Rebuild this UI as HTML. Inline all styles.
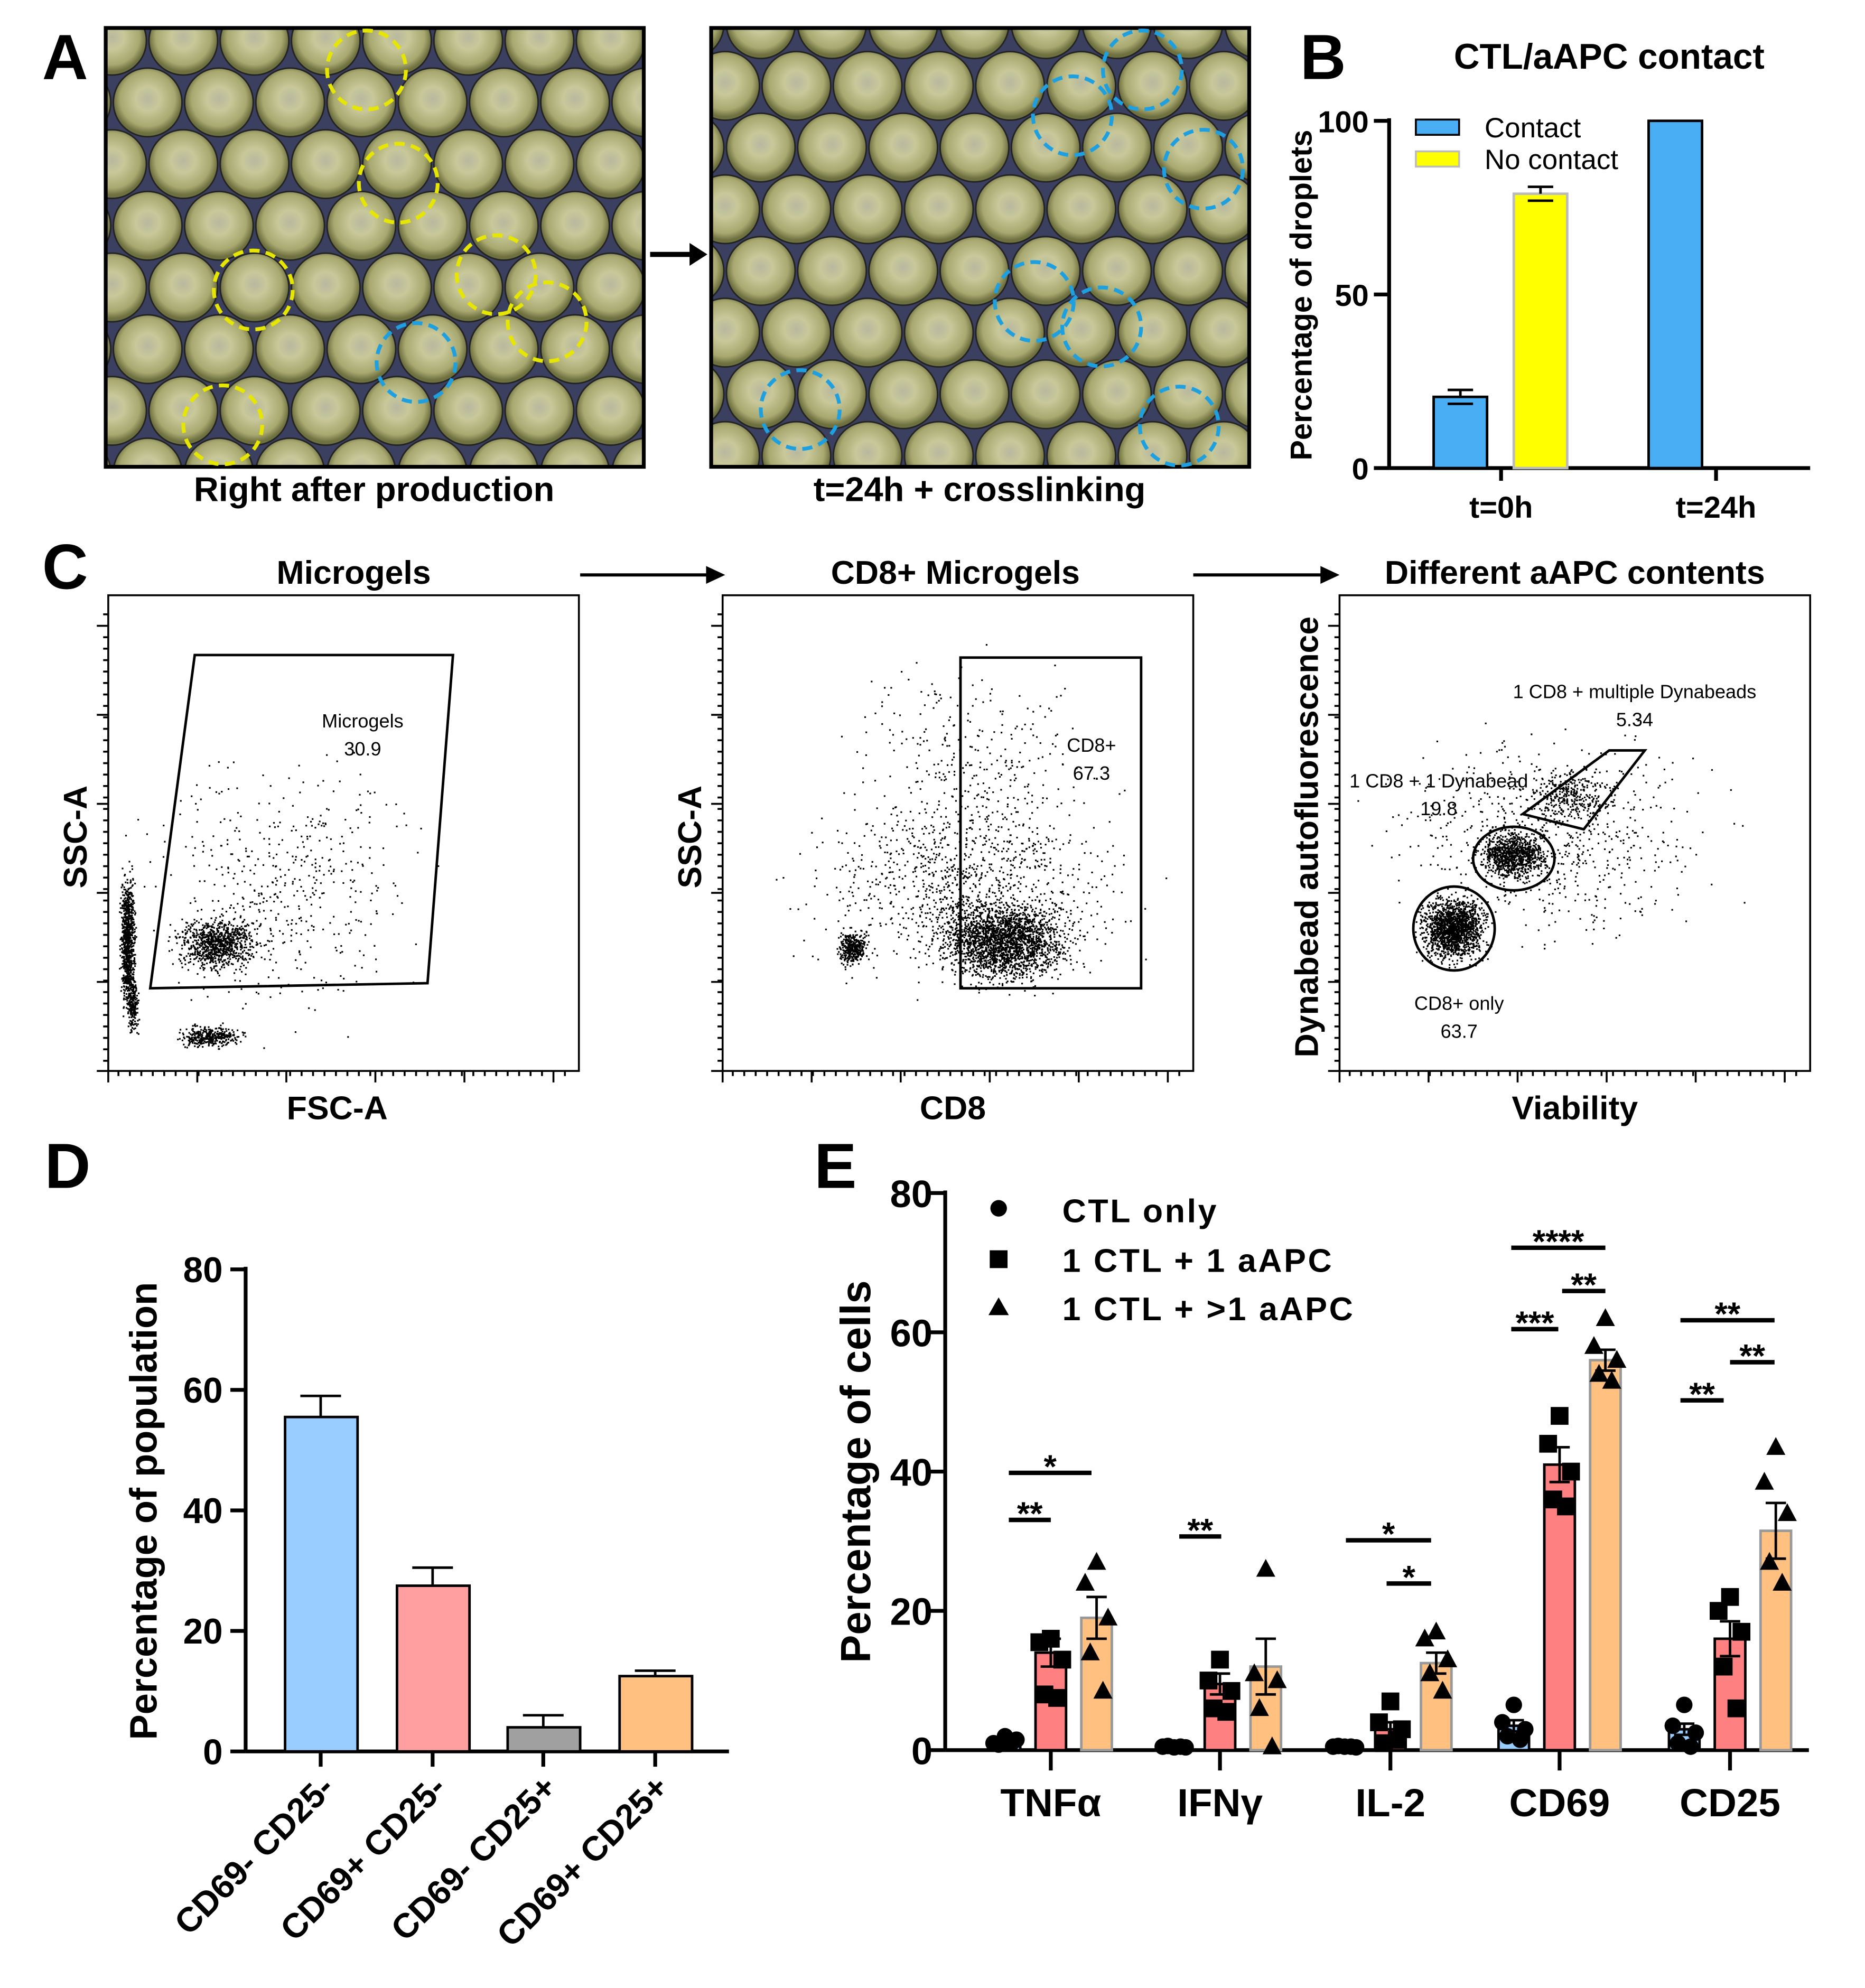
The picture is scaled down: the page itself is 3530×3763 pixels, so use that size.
<!DOCTYPE html>
<html><head><meta charset="utf-8">
<style>
html,body{margin:0;padding:0;background:#fff;}
svg{display:block;}
text{font-family:"Liberation Sans",sans-serif;}
</style></head>
<body>
<svg id="fig" xmlns="http://www.w3.org/2000/svg" width="3530" height="3763" viewBox="0 0 1466 1563">
<defs>
<radialGradient id="drop" cx="0.5" cy="0.45" r="0.5">
<stop offset="0" stop-color="#b8b8a0"/><stop offset="0.35" stop-color="#c8c89a"/><stop offset="0.8" stop-color="#a8a870"/><stop offset="1" stop-color="#6e7040"/>
</radialGradient>
<g id="hexcell">
<rect width="56" height="97" fill="#3c4060"/>
<circle cx="28" cy="24" r="27" fill="url(#drop)" stroke="#222" stroke-width="1.2"/>
<circle cx="28" cy="121" r="27" fill="url(#drop)" stroke="#222" stroke-width="1.2"/>
<circle cx="0" cy="72.5" r="27" fill="url(#drop)" stroke="#222" stroke-width="1.2"/>
<circle cx="56" cy="72.5" r="27" fill="url(#drop)" stroke="#222" stroke-width="1.2"/>
<circle cx="0" cy="-24.5" r="27" fill="url(#drop)" stroke="#222" stroke-width="1.2"/>
<circle cx="56" cy="-24.5" r="27" fill="url(#drop)" stroke="#222" stroke-width="1.2"/>
</g>
<pattern id="hex1" width="56" height="97" patternUnits="userSpaceOnUse" x="60" y="8"><use href="#hexcell"/></pattern>
<pattern id="hex2" width="56" height="97" patternUnits="userSpaceOnUse" x="570" y="-5"><use href="#hexcell"/></pattern>
</defs>

<!-- Panel A -->
<text x="33" y="62" font-size="50" font-weight="bold">A</text>
<rect x="83" y="22" width="423" height="345" fill="url(#hex1)" stroke="#000" stroke-width="3"/>
<rect x="559" y="22" width="423" height="345" fill="url(#hex2)" stroke="#000" stroke-width="3"/>
<g id="circlesA" fill="none" stroke-width="3" stroke-dasharray="8,5"></g>
<text x="294" y="394" font-size="27" font-weight="bold" text-anchor="middle">Right after production</text>
<text x="770" y="394" font-size="27" font-weight="bold" text-anchor="middle">t=24h + crosslinking</text>
<g><line x1="511" y1="200" x2="545" y2="200" stroke="#000" stroke-width="4"/><polygon points="542,191 556,200 542,209" fill="#000"/></g>

<!-- Panel B -->
<text x="1022" y="62" font-size="50" font-weight="bold">B</text>
<text x="1265" y="54" font-size="28" font-weight="bold" text-anchor="middle">CTL/aAPC contact</text>
<g id="chartB"></g>

<!-- Panel C -->
<text x="33" y="463" font-size="50" font-weight="bold">C</text>
<text x="278" y="459" font-size="26" font-weight="bold" text-anchor="middle">Microgels</text>
<text x="751" y="459" font-size="26" font-weight="bold" text-anchor="middle">CD8+ Microgels</text>
<text x="1238" y="459" font-size="26" font-weight="bold" text-anchor="middle">Different aAPC contents</text>
<g><line x1="456" y1="452" x2="558" y2="452" stroke="#000" stroke-width="2.5"/><polygon points="555,445 570,452 555,459" fill="#000"/></g>
<g><line x1="938" y1="452" x2="1041" y2="452" stroke="#000" stroke-width="2.5"/><polygon points="1038,445 1053,452 1038,459" fill="#000"/></g>
<g id="flow"></g>

<!-- Panel D -->
<text x="35" y="934" font-size="50" font-weight="bold">D</text>
<g id="chartD"></g>

<!-- Panel E -->
<text x="640" y="934" font-size="50" font-weight="bold">E</text>
<g id="chartE"></g>
</svg>

<script>
const NS='http://www.w3.org/2000/svg';
function mk(parent,tag,attrs,txt){const e=document.createElementNS(NS,tag);for(const k in attrs)e.setAttribute(k,attrs[k]);if(txt!==undefined)e.textContent=txt;parent.appendChild(e);return e;}

// ---- Panel A circles ----
const cA=document.getElementById('circlesA');
const yellowC=[[288,55],[313,144],[199,228],[390,216],[430,253],[175,334]];
const blueC=[[327,285],[898,55],[843,91],[946,133],[813,237],[866,257],[629,322],[927,335]];
yellowC.forEach(p=>{const c=mk(cA,'circle',{cx:p[0],cy:p[1],r:31,stroke:'#e6e600'});

});
blueC.forEach(p=>{const c=mk(cA,'circle',{cx:p[0],cy:p[1],r:31,stroke:'#1ea0e0'});

});

// ---- Panel B ----
const bCats=['t=0h','t=24h'];
const bContact=[20.5,100];
const bContactErr=[2,0];
const bNoContact=[79,0];
const bNoContactErr=[2,0];
const bTicks=[0,50,100];
(function(){
const g=document.getElementById('chartB');
const x0=1092,y0=368,yTop=95,xEnd=1423;
const ys=v=>y0-(v/100)*(y0-yTop);
const centers=[1180,1349];
mk(g,'line',{x1:x0,y1:yTop-2,x2:x0,y2:y0,stroke:'#000','stroke-width':3});
mk(g,'line',{x1:x0,y1:y0,x2:xEnd,y2:y0,stroke:'#000','stroke-width':3});
bTicks.forEach(t=>{mk(g,'line',{x1:x0-12,y1:ys(t),x2:x0,y2:ys(t),stroke:'#000','stroke-width':3});
const l=mk(g,'text',{x:x0-16,y:ys(t)+9,'font-size':24,'font-weight':'bold','text-anchor':'end'},t);

});
bCats.forEach((c,i)=>{const cx=centers[i];
mk(g,'line',{x1:cx,y1:y0,x2:cx,y2:y0+10,stroke:'#000','stroke-width':3});
const l=mk(g,'text',{x:cx,y:y0+39,'font-size':24,'font-weight':'bold','text-anchor':'middle'},c);


const series=[[bContact,bContactErr,'#4aaef5',cx-53],[bNoContact,bNoContactErr,'#ffff00',cx+10]];
series.forEach(s=>{const v=s[0][i];if(v<=0)return;
const b=mk(g,'rect',{x:s[3],y:ys(v),width:42,height:y0-ys(v),fill:s[2],stroke:s[2]=='#ffff00'?'#bbb':'#000','stroke-width':2});


const e=s[1][i];if(e>0){const mx=s[3]+21;
mk(g,'line',{x1:mx,y1:ys(v+e),x2:mx,y2:ys(v),stroke:'#000','stroke-width':2});
mk(g,'line',{x1:mx-10,y1:ys(v+e),x2:mx+10,y2:ys(v+e),stroke:'#000','stroke-width':2});
mk(g,'line',{x1:mx-10,y1:ys(v-e),x2:mx+10,y2:ys(v-e),stroke:'#000','stroke-width':2});}
});});
const yl=mk(g,'text',{x:0,y:0,'font-size':24,'font-weight':'bold','text-anchor':'middle',transform:'translate(1031,232) rotate(-90)'},'Percentage of droplets');


const l1=mk(g,'rect',{x:1113,y:94,width:34,height:12,fill:'#4aaef5',stroke:'#000','stroke-width':1.5});


const t1=mk(g,'text',{x:1167,y:108,'font-size':22},'Contact');


const l2=mk(g,'rect',{x:1113,y:119,width:34,height:12,fill:'#ffff00',stroke:'#bbb','stroke-width':1.5});


const t2=mk(g,'text',{x:1167,y:133,'font-size':22},'No contact');


})();

// ---- Panel C flow plots (texture) ----
(function(){
const g=document.getElementById('flow');
let seed=12345;function rnd(){seed=(seed*1103515245+12345)%2147483648;return seed/2147483648;}
function gauss(){return (rnd()+rnd()+rnd()+rnd()-2)/1.15;}
const boxes=[[85,468,455,842,'flow-plot-microgels'],[568,468,938,842,'flow-plot-cd8'],[1053,468,1423,842,'flow-plot-aapc']];
const clusters=[
 [[100,740,5,45,900],[170,742,28,18,900],[165,815,22,8,350],[220,700,90,90,500],[104,790,4,20,200]],
 [[790,740,45,28,2200],[670,745,10,12,350],[760,700,110,60,900],[760,620,90,90,400]],
 [[1142,730,22,22,1600],[1190,672,24,16,900],[1235,625,30,20,300],[1220,660,110,70,700]]
];
boxes.forEach((b,i)=>{
const r=mk(g,'rect',{x:b[0],y:b[1],width:b[2]-b[0],height:b[3]-b[1],fill:'#fff',stroke:'#000','stroke-width':1.5});


let d='';
clusters[i].forEach(c=>{for(let k=0;k<c[4];k++){const x=c[0]+gauss()*c[2],y=c[1]+gauss()*c[3];
if(x>b[0]+3&&x<b[2]-3&&y>b[1]+3&&y<b[3]-3)d+='M'+x.toFixed(1)+' '+y.toFixed(1)+'h1.3v1.3h-1.3z';}});
mk(g,'path',{d:d,fill:'#000'});
let td='';
for(let k=0;k<6;k++){const x=b[0]+k*70;td+='M'+x+' '+b[3]+'v9';}
for(let k=0;k<40;k++){const x=b[0]+8+k*9;td+='M'+x+' '+b[3]+'v4';}
for(let k=0;k<6;k++){const y=b[3]-k*70;td+='M'+b[0]+' '+y+'h-9';}
for(let k=0;k<40;k++){const y=b[3]-8-k*9;td+='M'+b[0]+' '+y+'h-4';}
mk(g,'path',{d:td,stroke:'#000','stroke-width':1.5,fill:'none'});
});
const gs='#000';
const p1=mk(g,'polygon',{points:'153,515 356,515 336,773 118,777',fill:'none',stroke:gs,'stroke-width':2});


const r2=mk(g,'rect',{x:755,y:517,width:142,height:260,fill:'none',stroke:gs,'stroke-width':2});


const e1=mk(g,'ellipse',{cx:1143,cy:730,rx:32,ry:33,fill:'none',stroke:gs,'stroke-width':2});


const e2=mk(g,'ellipse',{cx:1190,cy:675,rx:32,ry:25,fill:'none',stroke:gs,'stroke-width':2});


const p3=mk(g,'polygon',{points:'1197,640 1265,590 1293,590 1245,652',fill:'none',stroke:gs,'stroke-width':2});


const labels=[[285,572,'Microgels'],[285,594,'30.9'],[858,591,'CD8+'],[858,613,'67.3'],[1285,549,'1 CD8 + multiple Dynabeads'],[1285,571,'5.34'],[1131,619,'1 CD8 + 1 Dynabead'],[1131,641,'19.8'],[1147,794,'CD8+ only'],[1147,816,'63.7']];
labels.forEach(l=>{const t=mk(g,'text',{x:l[0],y:l[1],'font-size':15,'text-anchor':'middle'},l[2]);

});
const ax=[[265,880,'FSC-A',0],[749,880,'CD8',0],[1238,880,'Viability',0],[68,658,'SSC-A',1],[551,658,'SSC-A',1],[1036,658,'Dynabead autofluorescence',1]];
ax.forEach(a=>{const t=a[3]?mk(g,'text',{x:0,y:0,'font-size':26,'font-weight':'bold','text-anchor':'middle',transform:'translate('+a[0]+','+a[1]+') rotate(-90)'},a[2]):mk(g,'text',{x:a[0],y:a[1],'font-size':26,'font-weight':'bold','text-anchor':'middle'},a[2]);

});
})();

// ---- Panel D ----
const dCats=['CD69- CD25-','CD69+ CD25-','CD69- CD25+','CD69+ CD25+'];
const dVals=[55.5,27.5,4,12.5];
const dErr=[3.5,3,2,0.9];
const dTicks=[0,20,40,60,80];
(function(){
const g=document.getElementById('chartD');
const x0=193,y0=1377,yTop=998,xEnd=573;
const ys=v=>y0-(v/80)*(y0-yTop);
const cols=['#99ccff','#ff9f9f','#a0a0a0','#ffc080'];
const centers=[252,340,427,515];
mk(g,'line',{x1:x0,y1:yTop-2,x2:x0,y2:y0,stroke:'#000','stroke-width':3});
mk(g,'line',{x1:x0,y1:y0,x2:xEnd,y2:y0,stroke:'#000','stroke-width':3});
dTicks.forEach(t=>{mk(g,'line',{x1:x0-12,y1:ys(t),x2:x0,y2:ys(t),stroke:'#000','stroke-width':3});
const l=mk(g,'text',{x:x0-18,y:ys(t)+10,'font-size':28,'font-weight':'bold','text-anchor':'end'},t);

});
dCats.forEach((c,i)=>{const cx=centers[i],v=dVals[i],e=dErr[i];
const b=mk(g,'rect',{x:cx-28,y:ys(v),width:57,height:y0-ys(v),fill:cols[i],stroke:'#000','stroke-width':2});


mk(g,'line',{x1:cx,y1:ys(v+e),x2:cx,y2:ys(v),stroke:'#000','stroke-width':2});
mk(g,'line',{x1:cx-16,y1:ys(v+e),x2:cx+16,y2:ys(v+e),stroke:'#000','stroke-width':2});
mk(g,'line',{x1:cx,y1:y0,x2:cx,y2:y0+12,stroke:'#000','stroke-width':3});
const l=mk(g,'text',{x:0,y:0,'font-size':27,'font-weight':'bold','text-anchor':'end',transform:'translate('+(cx+12)+','+(y0+30)+') rotate(-45)'},c);

});
const yl=mk(g,'text',{x:0,y:0,'font-size':30,'font-weight':'bold','text-anchor':'middle',transform:'translate(123,1188) rotate(-90)'},'Percentage of population');


})();

// ---- Panel E ----
const eCats=['TNFα','IFNγ','IL-2','CD69','CD25'];
const eMeanCtl=[1.2,0.5,0.5,3.5,3];
const eMeanOne=[14,9.5,3,41,16];
const eMeanMulti=[19,12,12.5,56,31.5];
const eErrCtl=[0.3,0.1,0.1,0.8,0.8];
const eErrOne=[2,1.5,1,2.5,2.5];
const eErrMulti=[3,4,1.5,1.5,4];
const ePtsCtl=[[2,1,1.5,0.8,1],[0.4,0.5,0.4,0.6,0.5],[0.5,0.5,0.4,0.6,0.5],[6.5,4,3,2,1.5],[6.5,3.5,2.5,1,0.5]];
const ePtsOne=[[16,15.5,13,8,7.5],[13,10,8.5,6,5.5],[7,4,3,1,1.5],[48,44,40,36,35],[22,20,17,12,6]];
const ePtsMulti=[[27,24,19,14,8.5],[26,11,10,6,0.5],[17,16,13,11,8.5],[62,58,56,54,53],[43.5,38.5,34,27,24]];
const eTicks=[0,20,40,60,80];
(function(){
const g=document.getElementById('chartE');
const x0=743,y0=1376,yTop=938,xEnd=1422;
const ys=v=>y0-(v/80)*(y0-yTop);
const centers=[826,959,1093,1226,1360];
mk(g,'line',{x1:x0,y1:yTop-2,x2:x0,y2:y0,stroke:'#000','stroke-width':3});
mk(g,'line',{x1:x0,y1:y0,x2:xEnd,y2:y0,stroke:'#000','stroke-width':3});
eTicks.forEach(t=>{mk(g,'line',{x1:x0-12,y1:ys(t),x2:x0,y2:ys(t),stroke:'#000','stroke-width':3});
const l=mk(g,'text',{x:x0-10,y:ys(t)+11,'font-size':30,'font-weight':'bold','text-anchor':'end'},t);

});
const ser=[[eMeanCtl,eErrCtl,ePtsCtl,'#99ccff','#000',-36,'circle'],[eMeanOne,eErrOne,ePtsOne,'#ff8080','#000',0,'square'],[eMeanMulti,eErrMulti,ePtsMulti,'#ffc080','#999',36,'triangle']];
const jit=[0,-9,9,-5,5];
eCats.forEach((c,i)=>{const cx=centers[i];
mk(g,'line',{x1:cx,y1:y0,x2:cx,y2:y0+16,stroke:'#000','stroke-width':3});
const l=mk(g,'text',{x:cx,y:y0+52,'font-size':31,'font-weight':'bold','text-anchor':'middle'},c);


ser.forEach(s=>{const bx=cx+s[5],v=s[0][i],e=s[1][i];
const b=mk(g,'rect',{x:bx-12,y:ys(v),width:24,height:y0-ys(v),fill:s[3],stroke:s[4],'stroke-width':2});


s[2][i].forEach((p,k)=>{const px=bx+jit[k],py=ys(p);let m;
if(s[6]=='circle')m=mk(g,'circle',{cx:px,cy:py,r:6.5,fill:'#000'});
else if(s[6]=='square')m=mk(g,'rect',{x:px-7,y:py-7,width:14,height:14,fill:'#000'});
else m=mk(g,'polygon',{points:(px-7.5)+','+(py+6)+' '+(px+7.5)+','+(py+6)+' '+px+','+(py-8),fill:'#000'});

});
mk(g,'line',{x1:bx,y1:ys(v+e),x2:bx,y2:ys(v-e),stroke:'#000','stroke-width':2});
mk(g,'line',{x1:bx-8,y1:ys(v+e),x2:bx+8,y2:ys(v+e),stroke:'#000','stroke-width':2});
mk(g,'line',{x1:bx-8,y1:ys(v-e),x2:bx+8,y2:ys(v-e),stroke:'#000','stroke-width':2});
});});
const sig=[[793,826,1195,'**'],[793,858,1158,'*'],[927,960,1208,'**'],[1058,1125,1211,'*'],[1090,1125,1245,'*'],[1188,1262,981,'****'],[1228,1262,1015,'**'],[1188,1225,1045,'***'],[1321,1395,1038,'**'],[1360,1395,1071,'**'],[1321,1355,1101,'**']];
sig.forEach(s=>{mk(g,'line',{x1:s[0],y1:s[2],x2:s[1],y2:s[2],stroke:'#000','stroke-width':3.5});
const t=mk(g,'text',{x:(s[0]+s[1])/2,y:s[2]+4,'font-size':26,'font-weight':'bold','text-anchor':'middle'},s[3]);

});
mk(g,'circle',{cx:785,cy:950,r:6.5,fill:'#000'});
mk(g,'rect',{x:778,y:983,width:14,height:14,fill:'#000'});
mk(g,'polygon',{points:'777,1034 793,1034 785,1020',fill:'#000'});
[['CTL only',961],['1 CTL + 1 aAPC',1000],['1 CTL + >1 aAPC',1038]].forEach(a=>{const t=mk(g,'text',{x:835,y:a[1],'font-size':26,'font-weight':'bold','letter-spacing':'1.5'},a[0]);

});
const yl=mk(g,'text',{x:0,y:0,'font-size':33,'font-weight':'bold','text-anchor':'middle',transform:'translate(684,1157) rotate(-90)'},'Percentage of cells');


})();
</script>
</body></html>
